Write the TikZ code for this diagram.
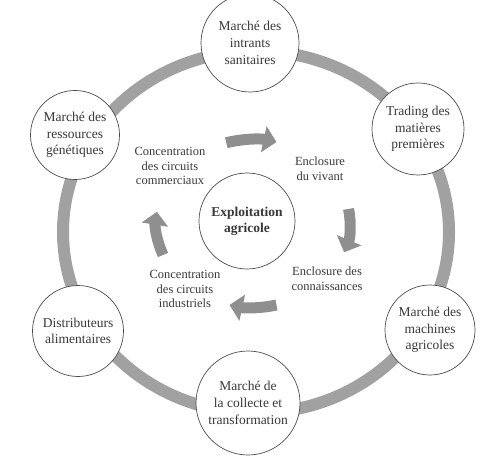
\documentclass[tikz,border=0pt]{standalone}
\usepackage{fontspec}
\setmainfont{Liberation Serif}
\usepackage{tikz}
\usetikzlibrary{arrows.meta}
\definecolor{ringgray}{gray}{0.63}
\definecolor{arrowgray}{gray}{0.56}
\definecolor{inkgray}{gray}{0.22}
\tikzset{market/.style={circle, draw=black!70, line width=0.7pt, fill=white, text=inkgray, align=center,
  inner sep=0pt, minimum size=#1, font=\fontsize{13.5}{16.7}\selectfont},
%default diameter of a market circle
market/.default={92pt},
flow/.style={align=center, text=inkgray, font=\fontsize{12.5}{14.8}\selectfont},
ring/.style={draw=ringgray, line width=12pt},
cyclearrow/.style={draw=arrowgray, line width=11pt, -{Triangle[length=13pt, width=26pt]}}}
\begin{document}
\begin{tikzpicture}[x=1pt,y=1pt]
\useasboundingbox (0,0) rectangle (502,458);
% ring
\draw[ring] (256,226) ellipse [x radius=193, y radius=181];

% markets
\node[market=98pt] (intrants) at (250,415) {Marché des\\intrants\\sanitaires};
\node[market] (trading) at (418,329) {Trading des\\matières\\premières};
\node[market=90pt] (machines) at (430,128) {Marché des\\machines\\agricoles};
\node[market=104pt] (collecte) at (248,55) {Marché de\\la collecte et\\transformation};
\node[market=91pt] (distrib) at (78,127) {Distributeurs\\alimentaires};
\node[market=89pt] (ressources) at (75,323) {Marché des\\ressources\\génétiques};

% farm
\node[market=96pt, font=\fontsize{13.5}{16.2}\selectfont\bfseries] (exploit) at (247,237) {Exploitation\\agricole};

%labels
\node[flow] (commerciaux) at (170,292) {Concentration\\des circuits\\commerciaux};
\node[flow] (vivant) at (320,289) {Enclosure\\du vivant};
\node[flow] (connaissances) at (327,179) {Enclosure des\\connaissances};
\node[flow] (industriels) at (185,169) {Concentration\\des circuits\\industriels};

% cycle
\coordinate (ctr) at (253,234.5);
\foreach \a/\b in {106/76, 10/-20, -76/-104, 202/172}
  \draw[cyclearrow] ([shift={(\a:97 and 84)}]ctr) arc[start angle=\a, end angle=\b, x radius=97, y radius=84];

\end{tikzpicture}
\end{document}
